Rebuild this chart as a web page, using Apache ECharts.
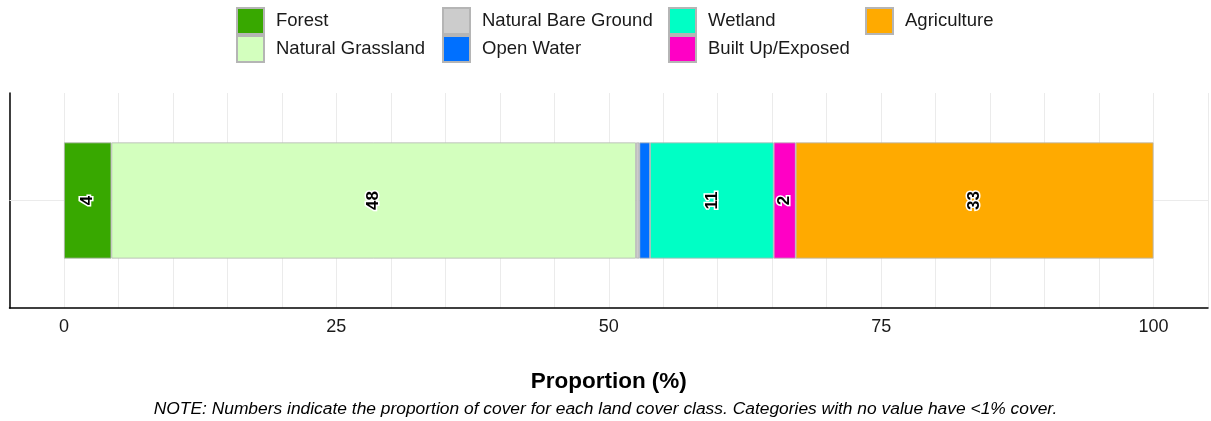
<!DOCTYPE html>
<html>
<head>
<meta charset="utf-8">
<script src="https://cdn.jsdelivr.net/npm/echarts@6/dist/echarts.min.js"></script>
<style>
html,body{margin:0;padding:0;background:#fff;}
#chart{width:1211px;height:421px;}
</style>
</head>
<body>
<div id="chart"></div>
<script>
const categories = ['Land Cover'];
const classNames = ['Forest','Natural Grassland','Natural Bare Ground','Open Water','Wetland','Built Up/Exposed','Agriculture'];
const classColors = ['#38a800','#d3ffbe','#cccccc','#0070ff','#00ffc5','#ff00c5','#ffaa00'];
const forest = [4.35];
const naturalGrassland = [48.15];
const naturalBareGround = [0.31];
const openWater = [0.98];
const wetland = [11.35];
const builtUp = [2.02];
const agriculture = [32.84];
const tickLabels = [0, 25, 50, 75, 100];
const legendColumns = [
  ['Forest','Natural Grassland'],
  ['Natural Bare Ground','Open Water'],
  ['Wetland','Built Up/Exposed'],
  ['Agriculture']
];
const values = [forest, naturalGrassland, naturalBareGround, openWater, wetland, builtUp, agriculture];
const FONT = '"Liberation Sans", Arial, sans-serif';

const chart = echarts.init(document.getElementById('chart'), null, {renderer:'canvas'});

const series = classNames.map((name, i) => ({
  name: name,
  type: 'bar',
  stack: 'total',
  barWidth: '54%',
  z: 3,
  data: values[i],
  itemStyle: {color: classColors[i], borderColor: '#b5b5b5', borderWidth: 0.8},
  label: {
    show: true,
    position: 'inside',
    rotate: 90,
    fontFamily: FONT,
    fontSize: 17,
    fontWeight: 'bold',
    color: '#000',
    textBorderColor: '#fff',
    textBorderWidth: 3,
    formatter: p => (p.value >= 1 ? String(Math.round(p.value)) : '')
  },
  emphasis: {disabled: true}
}));

series.push({
  name: '_grid',
  type: 'line',
  data: [],
  z: 1,
  silent: true,
  markLine: {
    silent: true,
    z: 1,
    symbol: 'none',
    label: {show: false},
    lineStyle: {color: '#ebebeb', width: 1, type: 'solid'},
    data: [{yAxis: categories[0]}]
  }
});

const legendLefts = [236, 442, 668, 865];
const legends = legendColumns.map((col, i) => ({
  orient: 'vertical',
  left: legendLefts[i],
  top: 7,
  padding: 0,
  itemWidth: 27,
  itemHeight: 26,
  itemGap: 0,
  icon: 'rect',
  selectedMode: false,
  data: col,
  textStyle: {fontFamily: FONT, fontSize: 18.5, color: '#1a1a1a', padding: [0,0,0,7]}
}));

chart.setOption({
  animation: false,
  backgroundColor: '#fff',
  legend: legends,
  title: {
    text: 'NOTE: Numbers indicate the proportion of cover for each land cover class. Categories with no value have <1% cover.',
    left: 'center',
    top: 401,
    padding: 0,
    textStyle: {fontFamily: FONT, fontSize: 17.4, fontStyle: 'italic', fontWeight: 'normal', color: '#000'}
  },
  grid: {left: 9.5, right: -1, top: 93, bottom: 113, containLabel: false},
  xAxis: {
    type: 'value',
    min: -5,
    max: 105,
    interval: 5,
    name: 'Proportion (%)',
    nameLocation: 'middle',
    nameGap: 62,
    nameTextStyle: {fontFamily: FONT, fontSize: 22.5, fontWeight: 'bold', color: '#000'},
    axisLine: {show: true, onZero: false, lineStyle: {color: '#000', width: 1.5}},
    axisTick: {show: false},
    axisLabel: {
      show: true,
      margin: 10,
      fontFamily: FONT,
      fontSize: 18,
      color: '#1a1a1a',
      showMinLabel: true,
      showMaxLabel: true,
      formatter: v => (tickLabels.indexOf(Math.round(v)) >= 0 && Math.abs(v - Math.round(v)) < 1e-6 ? String(Math.round(v)) : '')
    },
    splitLine: {show: true, lineStyle: {color: '#ebebeb', width: 1}}
  },
  yAxis: {
    type: 'category',
    data: categories,
    axisLine: {show: true, onZero: false, lineStyle: {color: '#000', width: 1.5}},
    axisTick: {show: false},
    axisLabel: {show: false},
    splitLine: {show: false}
  },
  series: series
});
</script>
</body>
</html>
